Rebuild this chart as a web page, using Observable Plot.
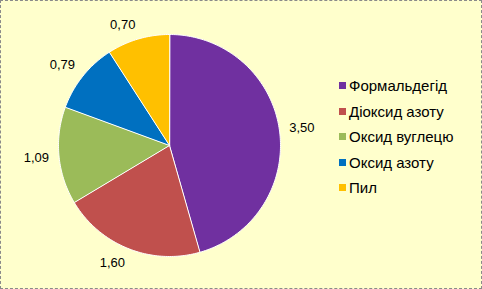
<!DOCTYPE html>
<html>
<head>
<meta charset="utf-8">
<script src="https://cdn.jsdelivr.net/npm/d3@7"></script>
<script src="https://cdn.jsdelivr.net/npm/@observablehq/plot@0.6"></script>
<style>
  html, body { margin: 0; padding: 0; background: #fff; }
  #wrap { position: relative; width: 482px; height: 289px; background: #FFFFCC; overflow: hidden;
          font-family: "Liberation Sans", Arial, sans-serif; }
  #wrap svg { position: absolute; left: 0; top: 0; }
  #border { position: absolute; left: 0; top: 0; right: 0; bottom: 0; border: 1px dashed #8a8a8a; pointer-events: none; }
  #legend { position: absolute; left: 339px; top: 73px; font-size: 15px; color: #000; }
  #legend .row { height: 25.5px; line-height: 25.5px; white-space: nowrap; display: flex; align-items: center; }
  #legend .sw { width: 7px; height: 7px; margin-right: 3px; flex: none; }
</style>
</head>
<body>
<div id="wrap"><div id="legend"></div><div id="border"></div></div>
<script>
const categories = ["Формальдегід", "Діоксид азоту", "Оксид вуглецю", "Оксид азоту", "Пил"];
const values = [3.50, 1.60, 1.09, 0.79, 0.70];
const valueLabels = ["3,50", "1,60", "1,09", "0,79", "0,70"];
const colors = ["#7030A0", "#C0504D", "#9BBB59", "#0070C0", "#FFC000"];

const data = categories.map((name, i) => ({name, value: values[i], label: valueLabels[i]}));
const arcs = d3.pie().sort(null).value(d => d.value)(data);

const R = 111; // pie radius in px (frame is 2R wide)
// slice outlines in unit-circle coordinates (angle 0 at 12 o'clock, clockwise)
const pts = [];
for (const a of arcs) {
  pts.push({name: a.data.name, x: 0, y: 0});
  const n = Math.max(2, Math.ceil((a.endAngle - a.startAngle) / (Math.PI / 180)));
  for (let k = 0; k <= n; k++) {
    const t = a.startAngle + (a.endAngle - a.startAngle) * k / n;
    pts.push({name: a.data.name, x: Math.sin(t), y: Math.cos(t)});
  }
}
// outside-end labels: the label box corner nearest the pie sits ~10px beyond the rim
const halfW = 12.6, halfH = 4.7;
const labelPts = arcs.map(a => {
  const m = (a.startAngle + a.endAngle) / 2;
  const ux = Math.sin(m), uy = Math.cos(m);
  const d = 1 + 10 / R;
  const ox = halfW * Math.sign(ux) / R;
  const oy = halfH * Math.max(-1, Math.min(1, 2 * uy)) / R;
  return {label: a.data.label, x: d * ux + ox, y: d * uy + oy};
});

const plot = Plot.plot({
  width: 482,
  height: 289,
  marginLeft: 58,
  marginRight: 202,
  marginTop: 34,
  marginBottom: 33,
  x: {domain: [-1, 1], axis: null},
  y: {domain: [-1, 1], axis: null},
  color: {domain: categories, range: colors},
  style: {background: "transparent", fontFamily: "'Liberation Sans', Arial, sans-serif"},
  marks: [
    Plot.line(pts, {x: "x", y: "y", z: "name", fill: "name", stroke: "white", strokeWidth: 1, curve: "linear-closed"}),
    Plot.text(labelPts, {x: "x", y: "y", text: "label", fontSize: 13, fill: "#000"})
  ]
});
const wrap = document.getElementById("wrap");
wrap.insertBefore(plot, wrap.firstChild);

const color = plot.scale("color");
const legend = document.getElementById("legend");
categories.forEach((c, i) => {
  const row = document.createElement("div");
  row.className = "row";
  const sw = document.createElement("span");
  sw.className = "sw";
  sw.style.background = color.apply(c);
  const tx = document.createElement("span");
  tx.textContent = c;
  row.appendChild(sw);
  row.appendChild(tx);
  legend.appendChild(row);
});
</script>
</body>
</html>
